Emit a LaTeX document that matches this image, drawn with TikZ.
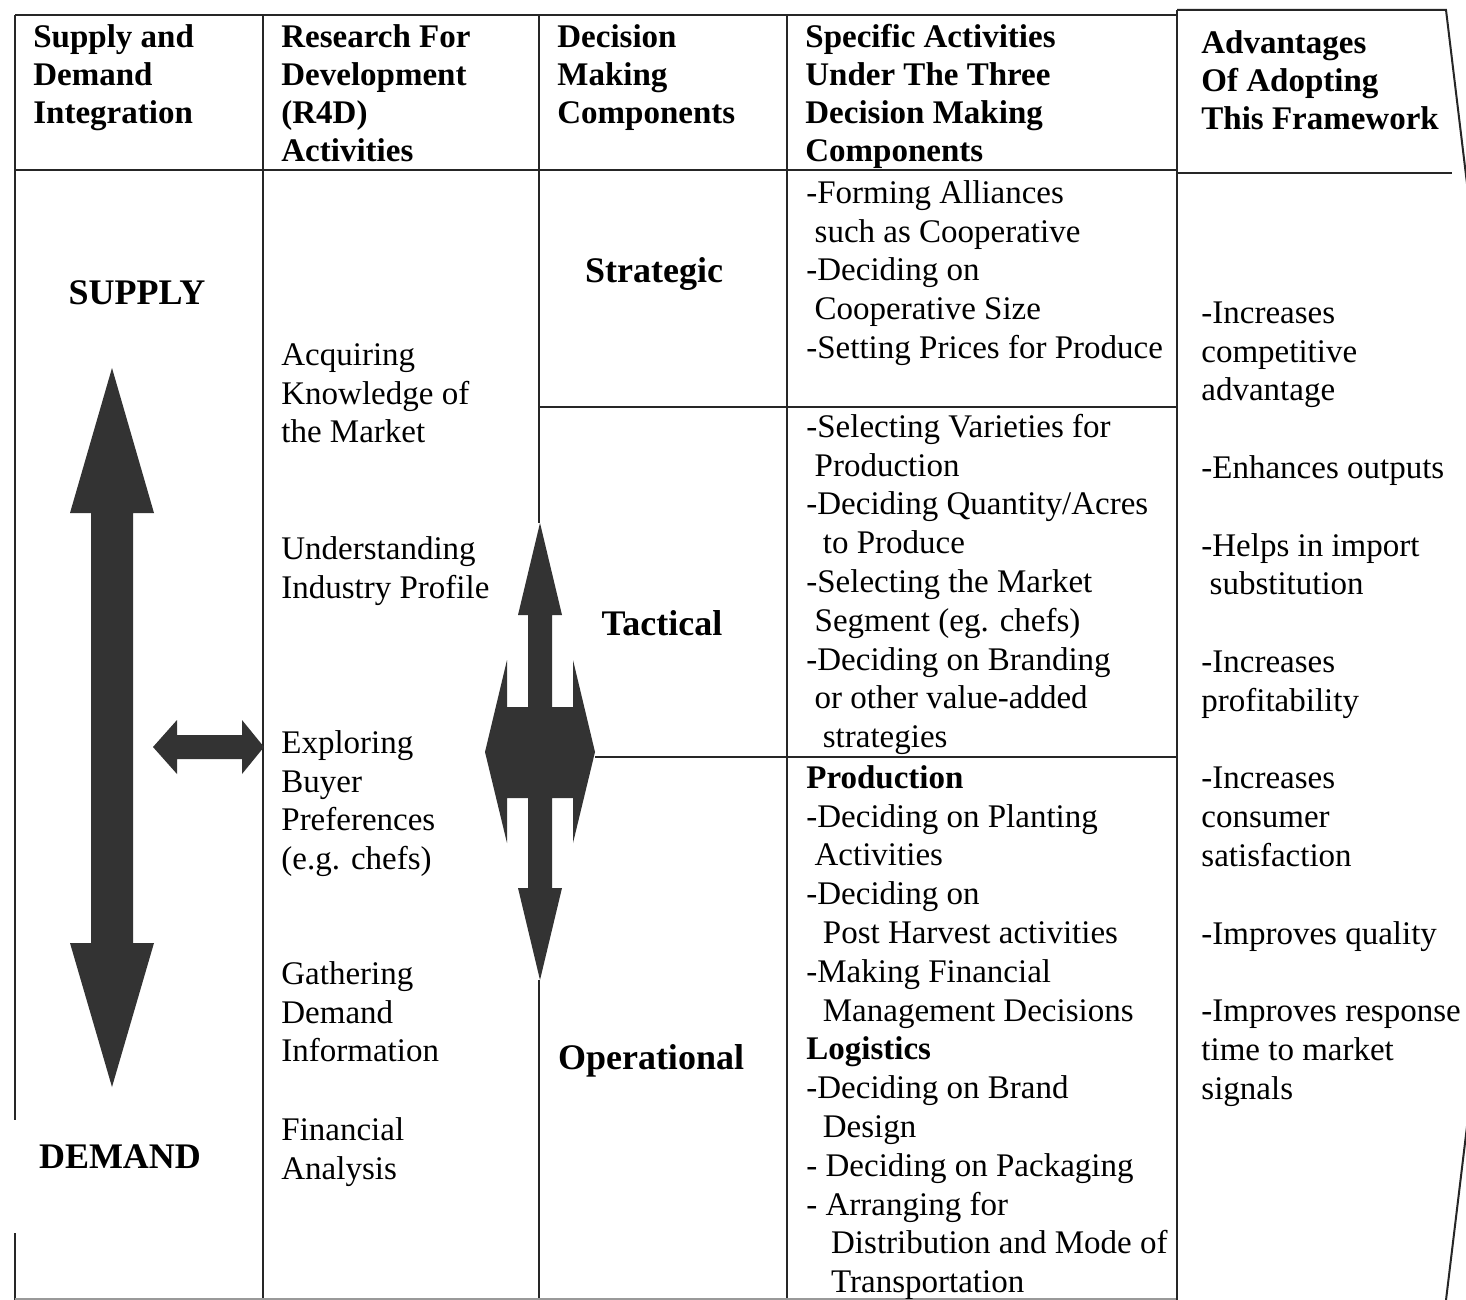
\documentclass[tikz,border=0pt]{standalone}
\usepackage{fontspec}
\setmainfont{Liberation Serif}
\begin{document}
\begin{tikzpicture}[x=0.5pt,y=-0.5pt,
  gridline/.style={line width=1pt,draw=black!85},
  faint/.style={line width=0.8pt,draw=black!40},
  hdr/.style={font=\bfseries\fontsize{16.5}{19}\selectfont,align=left,anchor=north west,inner sep=0pt},
  bodytext/.style={font=\fontsize{16.5}{19.4}\selectfont,align=left,anchor=north west,inner sep=0pt},
  biglabel/.style={font=\bfseries\fontsize{18}{21}\selectfont,anchor=base,inner sep=0pt},
  arrowfill/.style={fill=black!80,draw=none}]
\useasboundingbox (0,0) rectangle (1466,1300);
\clip (0,0) rectangle (1466,1300);
\fill[white] (0,0) rectangle (1466,1300);

% ---- grid
\draw[gridline] (15,15) -- (1177,15);
\draw[gridline] (15,170) -- (1177,170);
\draw[gridline] (15,15) -- (15,1120);
\draw[gridline] (15,1233) -- (15,1300);
\draw[gridline] (263,15) -- (263,1300);
\draw[gridline] (539,15) -- (539,523);
\draw[gridline] (539,980) -- (539,1300);
\draw[gridline] (787,15) -- (787,1300);
\draw[gridline] (539,407) -- (1177,407);
\draw[gridline] (595,757) -- (1177,757);
\draw[faint] (15,1299) -- (1177,1299);
% right column
\draw[gridline] (1177,10) -- (1446,10) -- (1524,655) -- (1446,1300);
\draw[gridline] (1177,10) -- (1177,1300);
\draw[gridline] (1177,173) -- (1452,173);

% ---- headers
\node[hdr] (h1) at (33,20.4) {\strut Supply and\\Demand\\Integration};
\node[hdr] (h2) at (281,20.4) {\strut Research For\\Development\\(R4D)\\Activities};
\node[hdr] (h3) at (557,20.4) {\strut Decision\\Making\\Components};
\node[hdr] (h4) at (805,20.4) {\strut Specific Activities\\Under The Three\\Decision Making\\Components};
\node[hdr] (h5) at (1201,26.4) {\strut Advantages\\Of Adopting\\This Framework};

% ---- column 1
\node[biglabel] (supply) at (137,304) {SUPPLY};
\node[biglabel] (demand) at (120,1168) {DEMAND};
\fill[arrowfill] (112,368) -- (154,513) -- (133,513) -- (133,943) -- (154,943) -- (112,1087)
  -- (70,943) -- (91,943) -- (91,513) -- (70,513) -- cycle;
\fill[arrowfill] (153,747) -- (177,720) -- (177,735) -- (242,735) -- (242,720) -- (264,747)
  -- (242,774) -- (242,759) -- (177,759) -- (177,774) -- cycle;

% ---- column 2
\node[bodytext] (r1) at (281,337.8) {\strut Acquiring\\Knowledge of\\the Market};
\node[bodytext] (r2) at (281,531.8) {\strut Understanding\\Industry Profile};
\node[bodytext] (r3) at (281,725.8) {\strut Exploring\\Buyer\\Preferences\\(e.g. chefs)};
\node[bodytext] (r4) at (281,956.8) {\strut Gathering\\Demand\\Information};
\node[bodytext] (r5) at (281,1112.8) {\strut Financial\\Analysis};

% ---- column 3
\node[biglabel] (strat) at (654,283) {Strategic};
\node[biglabel] (tact) at (662,635) {Tactical};
\node[biglabel] (oper) at (651,1069) {Operational};
\fill[arrowfill] (540,523) -- (562,615) -- (552,615) -- (552,707) -- (573,707) -- (573,660)
  -- (595,752) -- (573,843) -- (573,798) -- (552,798) -- (552,888) -- (562,888)
  -- (540,980) -- (518,888) -- (528,888) -- (528,798) -- (507,798) -- (507,843)
  -- (485,752) -- (507,660) -- (507,707) -- (528,707) -- (528,615) -- (518,615) -- cycle;

% ---- column 4
\node[bodytext] (s1) at (806,175.8) {\strut -Forming Alliances\\
  \hspace*{0.25em}such as Cooperative\\
  -Deciding on\\
  \hspace*{0.25em}Cooperative Size\\
  -Setting Prices for Produce};
\node[bodytext] (t1) at (806,409.8) {\strut -Selecting Varieties for\\
  \hspace*{0.25em}Production\\
  -Deciding Quantity/Acres\\
  \hspace*{0.5em}to Produce\\
  -Selecting the Market\\
  \hspace*{0.25em}Segment (eg. chefs)\\
  -Deciding on Branding\\
  \hspace*{0.25em}or other value-added\\
  \hspace*{0.5em}strategies};
\node[bodytext] (o1) at (806,760.8) {\strut \textbf{Production}\\
  -Deciding on Planting\\
  \hspace*{0.25em}Activities\\
  -Deciding on\\
  \hspace*{0.5em}Post Harvest activities\\
  -Making Financial\\
  \hspace*{0.5em}Management Decisions\\
  \textbf{Logistics}\\
  -Deciding on Brand\\
  \hspace*{0.5em}Design\\
  - Deciding on Packaging\\
  - Arranging for\\
  \hspace*{0.75em}Distribution and Mode of\\
  \hspace*{0.75em}Transportation};

% ---- column 5
\node[bodytext] (a1) at (1201,295.8) {\strut -Increases\\
  competitive\\
  advantage\\
  \strut\\
  -Enhances outputs\\
  \strut\\
  -Helps in import\\
  \hspace*{0.25em}substitution\\
  \strut\\
  -Increases\\
  profitability\\
  \strut\\
  -Increases\\
  consumer\\
  satisfaction\\
  \strut\\
  -Improves quality\\
  \strut\\
  -Improves response\\
  time to market\\
  signals};
\end{tikzpicture}
\end{document}
